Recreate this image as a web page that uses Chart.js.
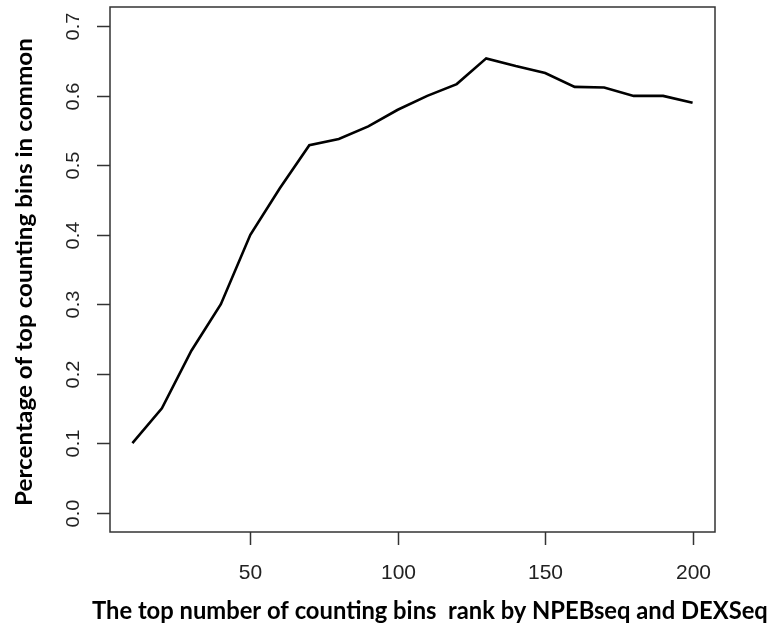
<!DOCTYPE html>
<html>
<head>
<meta charset="utf-8">
<script src="https://cdn.jsdelivr.net/npm/chart.js@4/dist/chart.umd.min.js"></script>
<style>
  html, body { margin: 0; padding: 0; background: #fff; }
  #wrap { width: 774px; height: 625px; position: relative; }
</style>
</head>
<body>
<div id="wrap"><canvas id="myChart" width="774" height="625"></canvas></div>
<script>
// top N bins (x) and share of them found by both methods (y)
var topBins = [10, 20, 30, 40, 50, 60, 70, 80, 90, 100, 110, 120, 130, 140, 150, 160, 170, 180, 190, 200];
var shareInCommon = [0.100, 0.150, 0.233, 0.300, 0.400, 0.467, 0.529, 0.538, 0.556, 0.580,
                     0.600, 0.617, 0.654, 0.643, 0.633, 0.613, 0.612, 0.600, 0.600, 0.590];
var xTicks = [50, 100, 150, 200];
var yTicks = [0.0, 0.1, 0.2, 0.3, 0.4, 0.5, 0.6, 0.7];
var xTitle = 'The top number of counting bins  rank by NPEBseq and DEXSeq';
var yTitle = 'Percentage of top counting bins in common';

//draws the R-like box, tick marks, tick labels and axis titles
var rAxesPlugin = {
  id: 'rAxes',
  afterDraw: function(chart){
    var ctx = chart.ctx;
    var area = chart.chartArea;
    var xs = chart.scales.x, ys = chart.scales.y;
    var tick = 13;

    ctx.save();
    ctx.strokeStyle = '#333';
    ctx.lineWidth = 1.5;
    ctx.strokeRect(area.left, area.top, area.right - area.left, area.bottom - area.top);

    // x ticks
    ctx.fillStyle = '#222';
    ctx.font = '21px "Liberation Sans", Arial, sans-serif';
    ctx.textAlign = 'center';
    ctx.textBaseline = 'middle';
    xTicks.forEach(function(v){
      var px = Math.round(xs.getPixelForValue(v)) + 0.5;
      ctx.beginPath();
      ctx.moveTo(px, area.bottom);
      ctx.lineTo(px, area.bottom + tick);
      ctx.stroke();
      ctx.fillText(String(v), px, 573);
    });

    // y ticks, labels turned like R's default
    ctx.font = '20px "Liberation Sans", Arial, sans-serif';
    yTicks.forEach(function(v){
      var py = Math.round(ys.getPixelForValue(v)) + 0.5;
      ctx.beginPath();
      ctx.moveTo(area.left, py);
      ctx.lineTo(area.left - tick, py);
      ctx.stroke();
      ctx.save();
      ctx.translate(74, py);
      ctx.rotate(-Math.PI / 2);
      ctx.scale(1, 0.9);
      ctx.fillText(v.toFixed(1), 0, 0);
      ctx.restore();
    });

    // axis titles, fitted to the width they have in the picture
    ctx.fillStyle = '#000';
    ctx.textBaseline = 'alphabetic';
    ctx.textAlign = 'left';
    drawFitted(ctx, xTitle, 92, 619, 676, 0, 1);
    drawFitted(ctx, yTitle, 32, 506, 468, -Math.PI / 2, 0.9);
    ctx.restore();
  }
};

function drawFitted(ctx, text, x, y, width, angle, squeeze){
  var size = 20;
  ctx.font = 'bold ' + size + 'px Lato, "Open Sans", sans-serif';
  size = size * width / ctx.measureText(text).width;
  ctx.font = 'bold ' + size.toFixed(2) + 'px Lato, "Open Sans", sans-serif';
  ctx.save();
  ctx.translate(x, y);
  ctx.rotate(angle);
  ctx.scale(1, squeeze);
  ctx.fillText(text, 0, 0);
  ctx.restore();
}

var points = topBins.map(function(x, i){ return {x: x, y: shareInCommon[i]}; });

var chart = new Chart(document.getElementById('myChart'), {
  type: 'line',
  data: {
    datasets: [{
      data: points,
      borderColor: '#000',
      borderWidth: 2.6,
      pointRadius: 0,
      tension: 0,
      fill: false
    }]
  },
  options: {
    responsive: false,
    animation: false,
    layout: { padding: { left: 110, right: 59, top: 7, bottom: 93 } },
    plugins: { legend: { display: false }, tooltip: { enabled: false } },
    scales: {
      x: { type: 'linear', display: false, min: 2.4, max: 207.6 },
      y: { type: 'linear', display: false, min: -0.028, max: 0.728 }
    }
  },
  plugins: [rAxesPlugin]
});
</script>
</body>
</html>
